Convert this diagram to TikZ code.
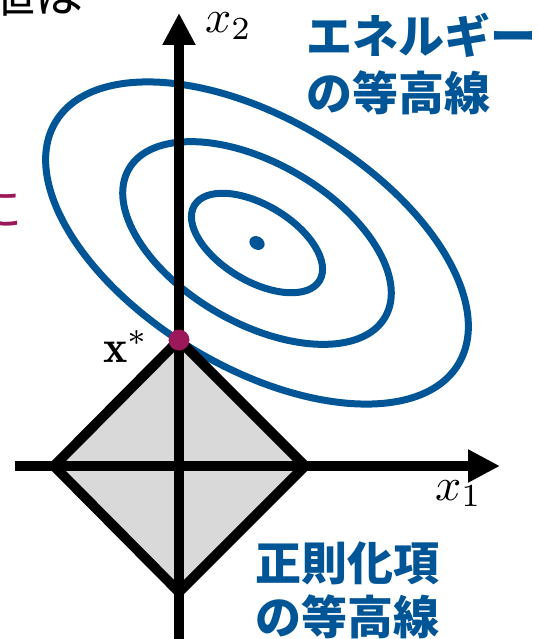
\documentclass[tikz,border=0pt]{standalone}
\usepackage{graphicx}
\usepackage{fontspec}
\newfontfamily\jp{Noto Sans CJK JP}
\usetikzlibrary{arrows.meta}
\definecolor{eblue}{RGB}{0,85,150}
\definecolor{emag}{RGB}{155,25,90}
\definecolor{rgray}{RGB}{217,217,217}
\newcommand{\bigmath}[1]{\scalebox{4.6}{\normalsize$#1$}}
\begin{document}
\begin{tikzpicture}[x=1pt,y=1pt,
  axis/.style={line width=10pt,-{Triangle[width=31pt,length=32pt]}},
  contour/.style={draw=eblue,line width=7pt},
  jplabel/.style={font=\jp\bfseries\fontsize{46}{56}\selectfont,text=eblue,inner sep=0pt,anchor=base west},
  cutlabel/.style={font=\jp\fontsize{48}{56}\selectfont,inner sep=0pt,anchor=base east},
  mathlabel/.style={inner sep=0pt,anchor=base west}]
\useasboundingbox (0,0) rectangle (538,-639);
\clip (0,0) rectangle (538,-639);
% coordinates
\coordinate (O) at (179,-466);
\coordinate (C) at (257,-243);
\coordinate (L) at (54,-466);
\coordinate (R) at (305,-466);
\coordinate (T) at (179,-340);
\coordinate (B) at (179,-592);
\coordinate (ybot) at (179,-660);
\coordinate (ytop) at (179,-13);
\coordinate (xleft) at (15,-466);
\coordinate (xright) at (500,-466);
% diamond fill
\fill[rgray] (L) -- (T) -- (R) -- (B) -- cycle;
% energy contours
\draw[contour, rotate around={-31:(C)}] (C) ellipse [x radius=235pt, y radius=124pt];
\draw[contour, rotate around={-30:(C)}] (C) ellipse [x radius=148pt, y radius=80pt];
\draw[contour, rotate around={-31:(C)}] (C) ellipse [x radius=73pt, y radius=38pt];
\fill[eblue, rotate around={-30:(C)}] (C) ellipse [x radius=8pt, y radius=6.5pt];
% axes
\draw[axis] (ybot) -- (ytop);
\draw[axis] (xleft) -- (xright);
% diamond border
\draw[line width=10pt, line join=miter] (L) -- (T) -- (R) -- (B) -- cycle;
% optimum
\fill[emag] (T) circle [radius=10.5pt];
% labels
\node[mathlabel] (lx2) at (205,-33) {\bigmath{x_2}};
\node[mathlabel] (lx1) at (435,-500) {\bigmath{x_1}};
\node[mathlabel] (lxs) at (103,-362) {\bigmath{\mathbf{x}^*}};
\node[jplabel] (e1) at (306,-54) {エネルギー};
\node[jplabel] (e2) at (306,-111) {の等高線};
\node[jplabel] (r1) at (255,-580) {正則化項};
\node[jplabel] (r2) at (255,-634) {の等高線};
\node[cutlabel] (cut1) at (84,-13) {値は};
\node[cutlabel, text=emag] (cut2) at (23,-226) {に};
\end{tikzpicture}
\end{document}
